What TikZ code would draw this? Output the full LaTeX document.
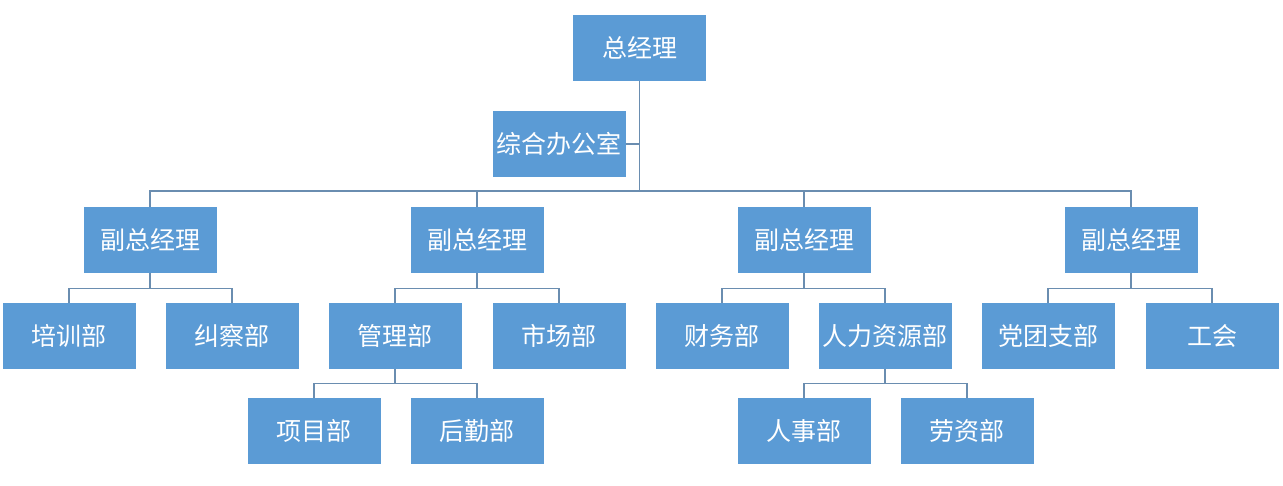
\documentclass[tikz,border=0pt]{standalone}
\usepackage{fontspec}
\newfontfamily\cjk{Noto Sans CJK SC}
\definecolor{boxfill}{HTML}{5B9BD5}
\definecolor{linecol}{HTML}{6A8DB0}
\begin{document}
\begin{tikzpicture}[x=1pt,y=-1pt,
  orgbox/.style={fill=boxfill,draw=none,minimum width=133pt,minimum height=66pt,inner sep=0pt,text=white,font=\cjk\fontsize{25}{28}\selectfont},
  link/.style={draw=linecol,line width=1.3pt}]
\useasboundingbox (0,0) rectangle (1283,486);
\node[orgbox] (gm) at (639.5,48) {总经理};
\node[orgbox] (office) at (559,144) {综合办公室};
\node[orgbox] (v1) at (150,240) {副总经理};
\node[orgbox] (v2) at (477,240) {副总经理};
\node[orgbox] (v3) at (804,240) {副总经理};
\node[orgbox] (v4) at (1131,240) {副总经理};
\node[orgbox] (px) at (69,336) {培训部};
\node[orgbox] (jc) at (232,336) {纠察部};
\node[orgbox] (gl) at (395,336) {管理部};
\node[orgbox] (sc) at (559,336) {市场部};
\node[orgbox] (cw) at (722,336) {财务部};
\node[orgbox] (rl) at (885,336) {人力资源部};
\node[orgbox] (dt) at (1048,336) {党团支部};
\node[orgbox] (gh) at (1212,336) {工会};
\node[orgbox] (xm) at (314,431) {项目部};
\node[orgbox] (hq) at (477,431) {后勤部};
\node[orgbox] (rs) at (804,431) {人事部};
\node[orgbox] (lz) at (967,431) {劳资部};
% top bus
\coordinate (gmb) at (gm.south |- 0,191);
\draw[link] (gm.south) -- (gmb);
\draw[link] (office.east) -- (office.east -| gm.south);
\draw[link] (v1.north) -- (v1.north |- gmb) -- (v4.north |- gmb) -- (v4.north);
\draw[link] (v2.north) -- (v2.north |- gmb);
\draw[link] (v3.north) -- (v3.north |- gmb);
% second level
\foreach \p/\a/\b in {v1/px/jc, v2/gl/sc, v3/cw/rl, v4/dt/gh}{
  \draw[link] (\p.south) -- ++(0,15) coordinate (\p-bus);
  \draw[link] (\a.north) -- (\a.north |- \p-bus) -- (\b.north |- \p-bus) -- (\b.north);
}
\foreach \p/\a/\b in {gl/xm/hq, rl/rs/lz}{
  \draw[link] (\p.south) -- ++(0,14) coordinate (\p-bus);
  \draw[link] (\a.north) -- (\a.north |- \p-bus) -- (\b.north |- \p-bus) -- (\b.north);
}
\end{tikzpicture}
\end{document}
